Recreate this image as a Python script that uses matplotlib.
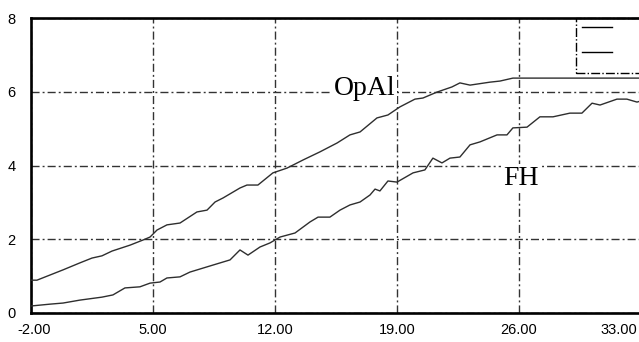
import matplotlib
matplotlib.use("Agg")
import matplotlib.pyplot as plt
import matplotlib.transforms as mtransforms
from matplotlib.patches import Rectangle

# sampled curves
opal_x = [-2.00, -1.66, -0.16, 0.81, 1.50, 2.07, 2.65, 3.68, 4.43, 4.83, 5.23, 5.80,
          6.55, 7.52, 8.10, 8.56, 9.02, 9.99, 10.39, 11.02, 11.88, 12.69, 13.61,
          14.58, 15.56, 16.30, 16.88, 17.85, 18.48, 19.17, 20.03, 20.49, 21.29,
          22.15, 22.61, 23.19, 24.33, 24.91, 25.65, 26.00, 33.00]
opal_y = [0.89, 0.89, 1.17, 1.36, 1.49, 1.55, 1.68, 1.84, 1.98, 2.06, 2.25, 2.39,
          2.44, 2.74, 2.79, 3.01, 3.12, 3.39, 3.47, 3.47, 3.80, 3.93, 4.15,
          4.37, 4.61, 4.83, 4.91, 5.29, 5.37, 5.59, 5.80, 5.83, 5.99,
          6.13, 6.24, 6.18, 6.26, 6.29, 6.37, 6.37, 6.37]

fh_x = [-2.00, -0.91, -0.16, 0.81, 2.07, 2.70, 3.39, 4.25, 4.83, 5.40, 5.80, 6.55,
        7.12, 8.44, 9.42, 9.99, 10.45, 11.14, 11.71, 12.29, 13.15, 14.01, 14.47,
        15.15, 15.73, 16.30, 16.88, 17.45, 17.74, 18.02, 18.48, 19.00, 19.92,
        20.60, 21.06, 21.58, 22.04, 22.61, 23.19, 23.76, 24.74, 25.31, 25.65,
        26.46, 27.20, 27.95, 28.92, 29.61, 30.19, 30.65, 31.62, 32.19, 32.77, 33.00]
fh_y = [0.19, 0.24, 0.27, 0.35, 0.43, 0.49, 0.68, 0.71, 0.81, 0.84, 0.95, 0.98,
        1.11, 1.30, 1.44, 1.71, 1.57, 1.79, 1.90, 2.06, 2.17, 2.47, 2.60,
        2.60, 2.79, 2.93, 3.01, 3.20, 3.36, 3.31, 3.58, 3.55, 3.80,
        3.88, 4.20, 4.07, 4.20, 4.23, 4.56, 4.64, 4.83, 4.83, 5.02,
        5.04, 5.32, 5.32, 5.42, 5.42, 5.69, 5.64, 5.80, 5.80, 5.72, 5.75]

x_ticks = [-2, 5, 12, 19, 26, 33]
x_labels = ["-2.00", "5.00", "12.00", "19.00", "26.00", "33.00"]
y_ticks = [0, 2, 4, 6, 8]
y_labels = ["0", "2", "4", "6", "8"]

grid_dash = (0, (5.8, 2.2, 1.4, 2.2))
curve_color = "#2e2e2e"

fig = plt.figure(figsize=(6.39, 3.42), dpi=100)
ax = fig.add_axes([31 / 639, 29 / 342, 610 / 639, 295 / 342])

l1, = ax.plot(opal_x, opal_y, color=curve_color, lw=1.0, zorder=3)
l2, = ax.plot(fh_x, fh_y, color=curve_color, lw=1.0, zorder=3)

ax.set_xlim(-2, 33)
ax.set_ylim(0, 8)
ax.set_xticks(x_ticks)
ax.set_xticklabels(x_labels)
ax.set_yticks(y_ticks)
ax.set_yticklabels(y_labels)
ax.tick_params(length=0, labelsize=10.5, colors="black")
ax.tick_params(axis="y", pad=11)
ax.tick_params(axis="x", pad=7.5)
for lab in ax.get_xticklabels() + ax.get_yticklabels():
    lab.set_fontfamily("Liberation Sans")

# nudge the end labels inward
fig.canvas.draw()
xl = ax.get_xticklabels()
xl[0].set_transform(xl[0].get_transform() + mtransforms.ScaledTranslation(3.5 / 100, 0, fig.dpi_scale_trans))
xl[-1].set_transform(xl[-1].get_transform() + mtransforms.ScaledTranslation(-22 / 100, 0, fig.dpi_scale_trans))

ax.grid(True, color="#333333", lw=1.0, linestyle=grid_dash)
ax.set_axisbelow(True)

for side in ["left", "bottom", "top"]:
    ax.spines[side].set_linewidth(1.9)
    ax.spines[side].set_color("black")
ax.spines["right"].set_visible(False)

serif = dict(family="Liberation Serif", fontsize=20, zorder=2,
             bbox=dict(facecolor="white", edgecolor="none", pad=1.5))
ax.text(15.35, 5.91, "OpAl", ha="left", va="baseline", **serif)
ax.text(25.08, 3.47, "FH", ha="left", va="baseline", **serif)

# legend: handles only, inside a dash-dot box running off the right edge
leg = ax.legend([l1, l2], ["", ""], loc="upper left", bbox_to_anchor=(0.899, 1.0),
                borderaxespad=0, handlelength=2.16, borderpad=0.18,
                labelspacing=0.79, fontsize=10, frameon=False)
for h in leg.legend_handles:
    h.set_color("black")
ax.add_patch(Rectangle((0.893, 0.8136), 0.2, 0.1864, transform=ax.transAxes,
                       fill=False, edgecolor="black", lw=1.0, linestyle="-.",
                       clip_on=False, zorder=4))

fig.savefig("out.png", dpi=100)
